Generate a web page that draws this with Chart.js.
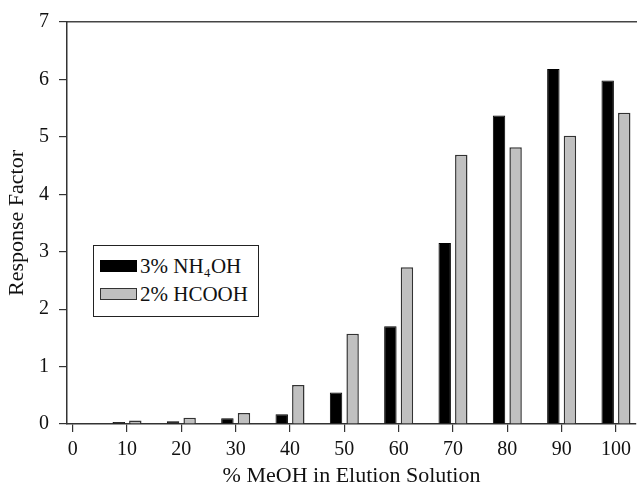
<!DOCTYPE html>
<html>
<head>
<meta charset="utf-8">
<script src="https://cdn.jsdelivr.net/npm/chart.js@4.4.1/dist/chart.umd.min.js"></script>
<style>
  body { margin: 0; background: #fff; }
  #wrap { position: relative; width: 637px; height: 487px; }
  #legend {
    position: absolute; left: 93px; top: 245px; width: 164px; height: 64px;
    border: 1.5px solid #222; background: #fff; padding-top: 6px;
    font-family: "Liberation Serif", "DejaVu Serif", serif; font-size: 21px; color: #111;
  }
  #legend .row { display: flex; align-items: center; height: 28px; padding-left: 6px; }
  #legend .sw { width: 37px; height: 12px; margin-right: 3px; box-sizing: border-box; }
</style>
</head>
<body>
<div id="wrap">
  <canvas id="myChart" width="637" height="487"></canvas>
  <div id="legend"></div>
</div>
<script>
// % MeOH in elution solution
var meoh = [0, 10, 20, 30, 40, 50, 60, 70, 80, 90, 100];
var xTicks = [0, 10, 20, 30, 40, 50, 60, 70, 80, 90, 100];
var yTicks = [0, 1, 2, 3, 4, 5, 6, 7];

var seriesNames = ['3% NH\u2084OH', '2% HCOOH'];
var nh4oh = [0.01, 0.035, 0.05, 0.10, 0.17, 0.55, 1.70, 3.15, 5.37, 6.18, 5.98];
var hcooh = [0, 0.06, 0.11, 0.19, 0.68, 1.57, 2.73, 4.69, 4.82, 5.02, 5.42];

var fillColors = ['#000000', '#c0c0c0'];
var edgeColors = ['#000000', '#333333'];

var font = { family: '"Liberation Serif", "DejaVu Serif", serif', size: 20 };
var titleFont = { family: font.family, size: 22, lineHeight: 1 };

function pts(vals) {
    return meoh.map((x, i) => { return { x: x, y: vals[i] }; });
}

var ctx = document.getElementById('myChart').getContext('2d');
var myChart = new Chart(ctx, {
    type: 'bar',
    data: {
        datasets: [{
            label: seriesNames[0],
            data: pts(nh4oh),
            backgroundColor: fillColors[0],
            borderColor: edgeColors[0],
            borderWidth: 1,
            categoryPercentage: 0.61,
            barPercentage: 0.75
        }, {
            label: seriesNames[1],
            data: pts(hcooh),
            backgroundColor: fillColors[1],
            borderColor: edgeColors[1],
            borderWidth: 1.5,
            categoryPercentage: 0.61,
            barPercentage: 0.75
        }]
    },
    options: {
        responsive: false,
        animation: false,
        layout: { padding: 0 },
        plugins: { legend: { display: false }, tooltip: { enabled: false } },
        scales: {
            x: {
                type: 'linear',
                position: 'bottom',
                offset: false,
                min: -1.05,
                max: 103.7,
                afterBuildTicks: (s) => { s.ticks = xTicks.map(v => ({ value: v })); },
                afterFit: (s) => { s.height = 63; },
                grid: { offset: false, drawOnChartArea: false, tickLength: 8, color: '#333', lineWidth: 1.2 },
                border: { color: '#333', width: 1.5 },
                ticks: { font: font, color: '#111', padding: 6, maxRotation: 0, autoSkip: false },
                title: {
                    display: true, text: '% MeOH in Elution Solution',
                    font: titleFont, color: '#111', padding: { top: 0, bottom: 0 }
                }
            },
            x2: {
                type: 'linear',
                position: 'top',
                offset: false,
                min: -1.05,
                max: 103.7,
                afterFit: (s) => { s.height = 20; },
                grid: { display: true, offset: false, drawOnChartArea: false, drawTicks: false },
                border: { display: true, color: '#444', width: 1.5 },
                ticks: { display: false }
            },
            y: {
                min: 0,
                max: 7,
                afterBuildTicks: (s) => { s.ticks = yTicks.map(v => ({ value: v })); },
                afterFit: (s) => { s.width = 67; },
                grid: { drawOnChartArea: false, tickLength: 8, color: '#333', lineWidth: 1.2 },
                border: { color: '#333', width: 1.5 },
                ticks: { font: font, color: '#111', padding: 10 },
                title: {
                    display: true, text: 'Response Factor',
                    font: titleFont, color: '#111', padding: { top: 6, bottom: 0 }
                }
            }
        }
    }
});

// legend drawn as html so it can sit inside the plot
var legend = document.getElementById('legend');
seriesNames.forEach((name, i) => {
    var row = document.createElement('div');
    row.className = 'row';
    var sw = document.createElement('div');
    sw.className = 'sw';
    sw.style.background = fillColors[i];
    sw.style.border = '1.5px solid ' + edgeColors[i];
    var txt = document.createElement('span');
    txt.textContent = name;
    row.appendChild(sw);
    row.appendChild(txt);
    legend.appendChild(row);
});
</script>
</body>
</html>
